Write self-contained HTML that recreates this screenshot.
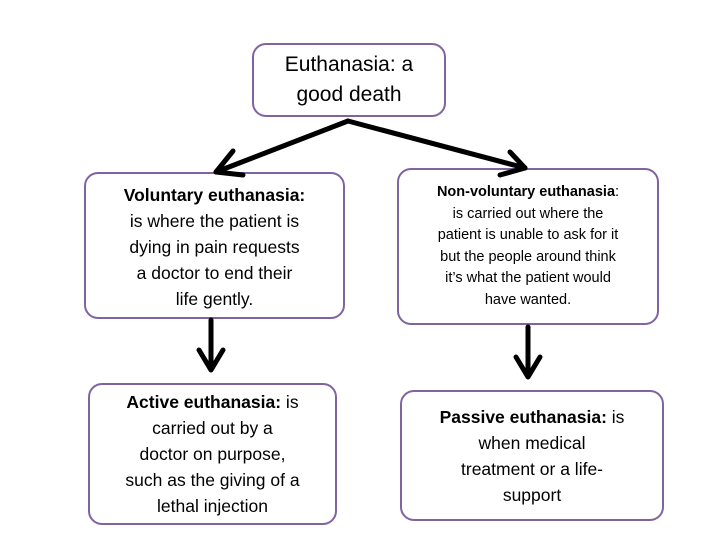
<!DOCTYPE html>
<html><head><meta charset="utf-8"><style>
body{margin:0;width:728px;height:546px;background:#fff;position:relative;overflow:hidden;font-family:"Liberation Sans",sans-serif;color:#000}
.b{position:absolute;box-sizing:border-box;border:2px solid #8064a2;border-radius:14px;background:#fff;text-align:center;display:flex;align-items:center;justify-content:center;flex-direction:column;white-space:nowrap}
svg{position:absolute;left:0;top:0;z-index:2}
</style></head><body>
<div class="b" style="left:252px;top:43px;width:194px;height:74px;font-size:21px;line-height:30px">Euthanasia: a<br>good death</div>
<div class="b" style="left:84px;top:172px;width:261px;height:147px;font-size:17.5px;line-height:26px;padding-top:2px"><div><b>Voluntary euthanasia:</b><br>is where the patient is<br>dying in pain requests<br>a doctor to end their<br>life gently.</div></div>
<div class="b" style="left:397px;top:168px;width:262px;height:157px;font-size:14.5px;line-height:21.5px"><div><b>Non-voluntary euthanasia</b>:<br>is carried out where the<br>patient is unable to ask for it<br>but the people around think<br>it’s what the patient would<br>have wanted.</div></div>
<div class="b" style="left:88px;top:383px;width:249px;height:142px;font-size:17.5px;line-height:26px"><div><b>Active euthanasia:</b> is<br>carried out by a<br>doctor on purpose,<br>such as the giving of a<br>lethal injection</div></div>
<div class="b" style="left:400px;top:390px;width:264px;height:131px;font-size:17.5px;line-height:26px"><div><b>Passive euthanasia:</b> is<br>when medical<br>treatment or a life-<br>support</div></div>
<svg width="728" height="546">
<g stroke="#000" stroke-width="5" fill="none" stroke-linecap="round" stroke-linejoin="round">
<line x1="348" y1="121" x2="216" y2="172"/>
<polyline points="233,151 216,172 243,175"/>
<line x1="348" y1="121" x2="525" y2="168"/>
<polyline points="510,152 525,168 500,175"/>
<line x1="211" y1="320" x2="211" y2="368"/>
<polyline points="199,350 211,370 223,350"/>
<line x1="528" y1="327" x2="528" y2="375"/>
<polyline points="516,357 528,377 540,357"/>
</g>
</svg>
</body></html>
